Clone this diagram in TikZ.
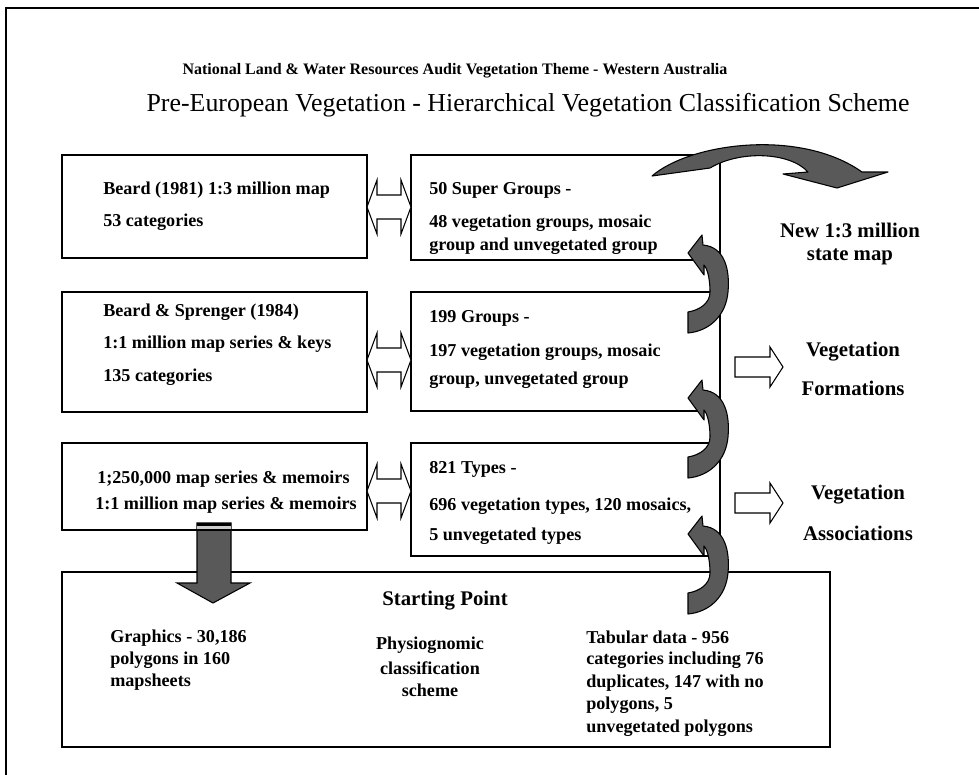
\documentclass[tikz,border=0pt]{standalone}
\usepackage{fontspec}
\setmainfont{Liberation Serif}
\begin{document}
\begin{tikzpicture}[x=0.75pt,y=-0.75pt,
  box/.style={draw, line width=1pt, inner sep=0pt, outer sep=0pt, anchor=north west},
  bt/.style={font=\bfseries\fontsize{13.6}{15}\selectfont, inner sep=0pt, anchor=west},
  ct/.style={font=\bfseries\fontsize{13.6}{15}\selectfont, inner sep=0pt, anchor=center},
  rt/.style={font=\bfseries\fontsize{15.6}{17}\selectfont, inner sep=0pt, anchor=center},
  hollow/.style={draw, fill=white, line width=0.8pt, line join=miter},
  grayarrow/.style={draw=black, fill=black!65, line width=0.8pt, line join=round}]
\useasboundingbox (0,0) rectangle (979,775);
\draw[line width=1pt] (6,775) -- (6,8) -- (979,8);

% titles
\node[font=\bfseries\fontsize{12}{14}\selectfont, inner sep=0pt] (t1) at (455,71) {National Land \& Water Resources Audit Vegetation Theme - Western Australia};
\node[font=\fontsize{19.4}{21}\selectfont, inner sep=0pt] (t2) at (528,105) {Pre-European Vegetation - Hierarchical Vegetation Classification Scheme};

% boxes
\node[box, minimum width=228.75pt, minimum height=77.25pt] (L1) at (62,155) {};
\node[box, minimum width=228.75pt, minimum height=90pt] (L2) at (62,292) {};
\node[box, minimum width=228.75pt, minimum height=65.25pt] (L3) at (62,443) {};
\node[box, minimum width=231.75pt, minimum height=78.75pt] (M1) at (411,155) {};
\node[box, minimum width=231.75pt, minimum height=89.25pt] (M2) at (411,292) {};
\node[box, minimum width=231.75pt, minimum height=84.75pt] (M3) at (411,443) {};
\node[box, minimum width=576pt, minimum height=131.25pt] (SP) at (62,572) {};

% left texts
\node[bt] (l1a) at (103,190) {Beard (1981) 1:3 million map};
\node[bt] (l1b) at (103,222) {53 categories};
\node[bt] (l2a) at (103,312) {Beard \& Sprenger (1984)};
\node[bt] (l2b) at (103,344) {1:1 million map series \& keys};
\node[bt] (l2c) at (103,377) {135 categories};
\node[bt] (l3a) at (97,479) {1;250,000 map series \& memoirs};
\node[bt] (l3b) at (95,505) {1:1 million map series \& memoirs};

% middle texts
\node[bt] (m1a) at (429,190) {50 Super Groups -};
\node[bt] (m1b) at (429,223) {48 vegetation groups, mosaic};
\node[bt] (m1c) at (429,246) {group and unvegetated group};
\node[bt] (m2a) at (429,318) {199 Groups -};
\node[bt] (m2b) at (429,352) {197 vegetation groups, mosaic};
\node[bt] (m2c) at (429,380) {group, unvegetated group};
\node[bt] (m3a) at (429,469) {821 Types -};
\node[bt] (m3b) at (429,506) {696 vegetation types, 120 mosaics,};
\node[bt] (m3c) at (429,536) {5 unvegetated types};

% right texts
\node[rt] (r1a) at (850,230) {New 1:3 million};
\node[rt] (r1b) at (850,257) {state map};
\node[rt] (r2a) at (853,352) {Vegetation};
\node[rt] (r2b) at (853,388) {Formations};
\node[rt] (r3a) at (858,495) {Vegetation};
\node[rt] (r3b) at (858,533) {Associations};

% starting point texts
\node[font=\bfseries\fontsize{15.6}{17}\selectfont, inner sep=0pt] (sp) at (445,601) {Starting Point};
\node[bt] (g1) at (110,638) {Graphics - 30,186};
\node[bt] (g2) at (110,660) {polygons in 160};
\node[bt] (g3) at (110,682) {mapsheets};
\node[ct] (p1) at (430,645) {Physiognomic};
\node[ct] (p2) at (430,668) {classification};
\node[ct] (p3) at (430,690) {scheme};
\node[bt] (d1) at (586,637) {Tabular data - 956};
\node[bt] (d2) at (586,660) {categories including 76};
\node[bt] (d3) at (586,683) {duplicates, 147 with no};
\node[bt] (d4) at (586,705) {polygons, 5};
\node[bt] (d5) at (586,728) {unvegetated polygons};

% double hollow arrows between left and middle boxes
\foreach \yc in {207,360,491}{
  \draw[hollow, shift={(0,\yc)}] (367,0) -- (377,-27) -- (377,-12) -- (401,-12) -- (401,-27) -- (411,0) -- (401,27) -- (401,12) -- (377,12) -- (377,27) -- cycle;
}

% right hollow arrows
\foreach \yc in {367,503}{
  \draw[hollow, shift={(0,\yc)}] (735,-10) -- (770,-10) -- (770,-20) -- (783,0) -- (770,20) -- (770,10) -- (735,10) -- cycle;
}

% big downward arrow
\draw[grayarrow, line join=miter] (197,523) -- (231,523) -- (231,583) -- (250,583) -- (213,603) -- (177,583) -- (197,583) -- cycle;
\fill[black] (197,523) rectangle (231,526);
\fill[black!20] (197,526) rectangle (231,529);
\fill[black] (197,529) rectangle (231,531);

% big top curved arrow
\draw[grayarrow] (652,176) .. controls (690,143) and (800,128) .. (862,172)
  -- (888,172) -- (837,188) -- (783,174) -- (808,172)
  .. controls (790,152) and (740,150) .. (710,168) -- cycle;

% small U-turn arrows
\foreach \dy in {-145,0,136}{
  \draw[grayarrow, shift={(0,\dy)}] (688,457) .. controls (700,455) and (710,448) .. (710,437)
    .. controls (710,420) and (706,412) .. (704,410)
    -- (704,420) -- (688,398) -- (702,380) -- (703,390)
    .. controls (725,392) and (730,415) .. (728,437)
    .. controls (726,460) and (710,476) .. (688,478) -- cycle;
}
\end{tikzpicture}
\end{document}
